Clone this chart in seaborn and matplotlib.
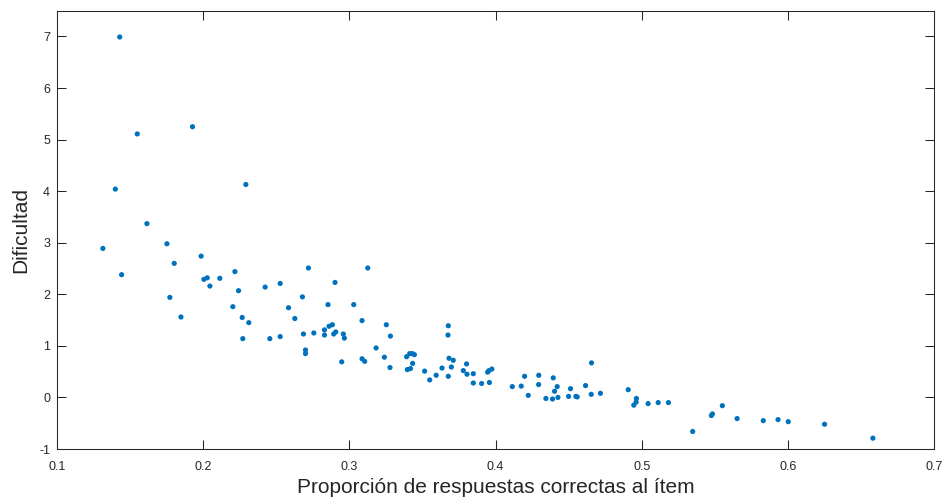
import matplotlib
matplotlib.use("Agg")
import matplotlib.pyplot as plt
import seaborn as sns
import pandas as pd

proporcion = [
    0.1429, 0.1549, 0.1927, 0.1399, 0.2292, 0.1615, 0.1752, 0.1314, 0.1986, 0.1802,
    0.1442, 0.2217, 0.2005, 0.2028, 0.2114, 0.2046, 0.2242, 0.2424, 0.2527, 0.1772,
    0.2203, 0.2584, 0.1848, 0.2267, 0.2627, 0.2312, 0.2271, 0.2456, 0.2527, 0.2720,
    0.3126, 0.2679, 0.2902, 0.2854, 0.3030, 0.3087, 0.3253, 0.2686, 0.2757, 0.2830,
    0.2861, 0.2884, 0.2830, 0.2893, 0.2907, 0.2959, 0.2966, 0.3281, 0.2700, 0.2700,
    0.3183, 0.2948, 0.3087, 0.3105, 0.3240, 0.3278, 0.3392, 0.3413, 0.3431, 0.3445,
    0.3433, 0.3397, 0.3418, 0.3515, 0.3550, 0.3594, 0.3634, 0.3677, 0.3675, 0.3682,
    0.3711, 0.3698, 0.3677, 0.3780, 0.3802, 0.3805, 0.3848, 0.3848, 0.3905, 0.3946,
    0.3955, 0.3975, 0.3958, 0.4115, 0.4176, 0.4199, 0.4224, 0.4296, 0.4295, 0.4345,
    0.4390, 0.4395, 0.4422, 0.4404, 0.4427, 0.4500, 0.4513, 0.4550, 0.4559, 0.4616,
    0.4657, 0.4655, 0.4718, 0.4908, 0.4964, 0.4962, 0.4946, 0.5044, 0.5113, 0.5183,
    0.5349, 0.5477, 0.5484, 0.5552, 0.5653, 0.5832, 0.5933, 0.6003, 0.6251, 0.6582,
]
dificultad = [
    6.99, 5.11, 5.25, 4.04, 4.13, 3.37, 2.98, 2.89, 2.74, 2.60,
    2.38, 2.44, 2.29, 2.32, 2.31, 2.16, 2.07, 2.14, 2.21, 1.94,
    1.76, 1.74, 1.56, 1.55, 1.53, 1.45, 1.14, 1.14, 1.18, 2.51,
    2.51, 1.95, 2.23, 1.80, 1.80, 1.49, 1.41, 1.23, 1.25, 1.31,
    1.38, 1.41, 1.21, 1.23, 1.27, 1.23, 1.15, 1.19, 0.92, 0.85,
    0.96, 0.69, 0.75, 0.70, 0.78, 0.58, 0.79, 0.85, 0.85, 0.83,
    0.66, 0.54, 0.56, 0.51, 0.34, 0.43, 0.57, 1.39, 1.21, 0.76,
    0.72, 0.59, 0.41, 0.52, 0.65, 0.45, 0.46, 0.28, 0.27, 0.49,
    0.52, 0.55, 0.29, 0.21, 0.22, 0.41, 0.04, 0.43, 0.25, -0.02,
    -0.03, 0.38, 0.21, 0.12, 0.00, 0.02, 0.17, 0.02, 0.01, 0.23,
    0.67, 0.06, 0.08, 0.15, -0.02, -0.09, -0.15, -0.12, -0.10, -0.10,
    -0.66, -0.35, -0.32, -0.16, -0.41, -0.45, -0.43, -0.47, -0.52, -0.79,
]
x_ticks = [0.1, 0.2, 0.3, 0.4, 0.5, 0.6, 0.7]
y_ticks = [-1, 0, 1, 2, 3, 4, 5, 6, 7]
x_label = "Proporción de respuestas correctas al ítem"
y_label = "Dificultad"

df = pd.DataFrame({"p": proporcion, "d": dificultad})

sns.set_theme(style="white")
plt.rcParams["font.family"] = ["Liberation Sans", "DejaVu Sans"]

fig = plt.figure(figsize=(9.46, 5.0), dpi=100)
ax = fig.add_axes([57 / 946, 1 - 449 / 500, (934 - 57) / 946, (449 - 10.7) / 500])

sns.scatterplot(data=df, x="p", y="d", ax=ax, color="#0072BD", s=14,
                linewidth=0, edgecolor="none")

ax.set_xlim(0.1, 0.7)
ax.set_ylim(-1, 7.5)
ax.set_xticks(x_ticks)
ax.set_xticklabels([f"{t:g}" for t in x_ticks])
ax.set_yticks(y_ticks)
ax.set_yticklabels([f"{t:g}" for t in y_ticks])

axis_color = "#262626"
for side in ["left", "right", "top", "bottom"]:
    ax.spines[side].set_visible(True)
    ax.spines[side].set_color(axis_color)
    ax.spines[side].set_linewidth(0.75)
ax.tick_params(direction="in", length=6.5, width=0.75, color=axis_color,
               labelsize=9, labelcolor=axis_color,
               top=True, right=True, bottom=True, left=True)
ax.tick_params(axis="x", pad=8.5)
ax.tick_params(axis="y", pad=5)
ax.set_xlabel(x_label, fontsize=15, color=axis_color, labelpad=4)
ax.set_ylabel(y_label, fontsize=15, color=axis_color, labelpad=6)
ax.grid(False)

fig.savefig("out.png", dpi=100)
